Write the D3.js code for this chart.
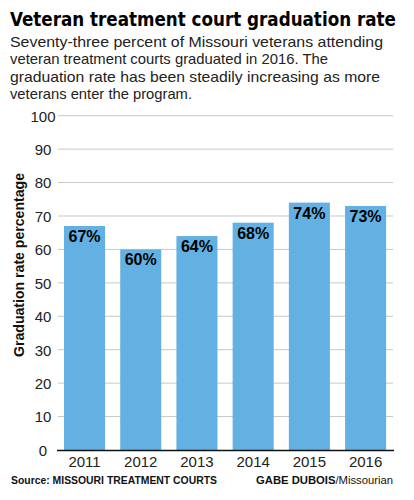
<!DOCTYPE html>
<html><head><meta charset="utf-8">
<script src="https://cdn.jsdelivr.net/npm/d3@7"></script>
<style>
body{margin:0;background:#fff;}
svg{display:block;}
</style></head>
<body>
<svg id="chart" width="414" height="500"></svg>
<script>
const years = ["2011","2012","2013","2014","2015","2016"];
const rates = [67, 60, 64, 68, 74, 73];
const yTicks = [0,10,20,30,40,50,60,70,80,90,100];
const titleText = "Veteran treatment court graduation rate";
const subtitleLines = [
  "Seventy-three percent of Missouri veterans attending",
  "veteran treatment courts graduated in 2016. The",
  "graduation rate has been steadily increasing as more",
  "veterans enter the program."
];
const yLabel = "Graduation rate percentage";

const svg = d3.select("#chart");
const W = 414, H = 500;
svg.append("rect").attr("width",W).attr("height",H).attr("fill","#fff");

const x = d3.scaleBand().domain(years).range([56.4, 393.7]).paddingInner(0.27).paddingOuter(0.135);
const y = d3.scaleLinear().domain([0,100]).range([450, 115.7]);

// title: fit natural width to 387px
const title = svg.append("text").attr("x",10).attr("y",25.5)
  .attr("font-family","'Liberation Sans Narrow','DejaVu Sans Condensed','Liberation Sans',sans-serif")
  .attr("font-weight","bold").attr("font-size",22).attr("fill","#000")
  .text(titleText);
const tw = title.node().getComputedTextLength();
if (tw > 0) {
  const fs = Math.min(22, 22 * 386 / tw);
  title.attr("font-size", fs);
}

// subtitle
const subW = [373, 318, 370, 182];
svg.append("g").selectAll("text").data(subtitleLines).join("text")
  .attr("x",10).attr("y",(d,i)=>46.5+i*17.5)
  .attr("font-family","'Liberation Sans',Arial,sans-serif")
  .attr("font-size",15).attr("fill","#222")
  .attr("textLength",(d,i)=>subW[i]).attr("lengthAdjust","spacingAndGlyphs")
  .text(d=>d);

// gridlines
const grid = svg.append("g");
grid.selectAll("line").data(yTicks.filter(t=>t>0)).join("line")
  .attr("x1",58).attr("x2",393)
  .attr("y1",d=>y(d)).attr("y2",d=>y(d))
  .attr("stroke","#c8c8c8").attr("stroke-width",1);

// y axis labels
const yAxis = d3.axisLeft(y).tickValues(yTicks).tickSize(0).tickPadding(0);
const yg = svg.append("g").attr("transform","translate(43,0)").call(yAxis);
yg.select(".domain").remove();
yg.selectAll("text").attr("text-anchor","middle").attr("x",0).attr("dy","0.36em")
  .attr("font-family","'Liberation Sans',Arial,sans-serif").attr("font-size",15).attr("fill","#222");

// bars
svg.append("g").selectAll("rect").data(years).join("rect")
  .attr("x",d=>x(d)).attr("width",x.bandwidth())
  .attr("y",(d,i)=>y(rates[i])).attr("height",(d,i)=>y(0)-y(rates[i]))
  .attr("fill","#62b1e2");

// bar labels
svg.append("g").selectAll("text").data(years).join("text")
  .attr("x",d=>x(d)+x.bandwidth()/2).attr("y",(d,i)=>y(rates[i])+16)
  .attr("text-anchor","middle")
  .attr("font-family","'Liberation Sans',Arial,sans-serif").attr("font-weight","bold")
  .attr("font-size",16).attr("fill","#000")
  .text((d,i)=>rates[i]+"%");

// x axis
const xAxis = d3.axisBottom(x).tickSize(0).tickPadding(6);
const xg = svg.append("g").attr("transform","translate(0,450)").call(xAxis);
xg.select(".domain").remove();
xg.selectAll("text").attr("font-family","'Liberation Sans',Arial,sans-serif").attr("font-size",15).attr("fill","#222");
svg.append("line").attr("x1",57).attr("x2",394).attr("y1",450.5).attr("y2",450.5)
  .attr("stroke","#111").attr("stroke-width",1.5);

// y label
svg.append("text").attr("transform","translate(23.5,265) rotate(-90)")
  .attr("text-anchor","middle")
  .attr("font-family","'Liberation Sans',Arial,sans-serif").attr("font-weight","bold")
  .attr("font-size",14).attr("fill","#111")
  .attr("textLength",184).attr("lengthAdjust","spacingAndGlyphs")
  .text(yLabel);

// footer
svg.append("text").attr("x",11).attr("y",484)
  .attr("font-family","'Liberation Sans Narrow','Liberation Sans',Arial,sans-serif").attr("font-weight","bold")
  .attr("font-size",10.5).attr("fill","#111")
  .attr("textLength",206).attr("lengthAdjust","spacingAndGlyphs")
  .text("Source: MISSOURI TREATMENT COURTS");
const cr = svg.append("text").attr("x",393).attr("y",484).attr("text-anchor","end")
  .attr("font-family","'Liberation Sans Narrow','Liberation Sans',Arial,sans-serif")
  .attr("font-size",10.5).attr("fill","#111")
  .attr("textLength",137).attr("lengthAdjust","spacingAndGlyphs");
cr.append("tspan").attr("font-weight","bold").text("GABE DUBOIS");
cr.append("tspan").text("/Missourian");
</script>
</body></html>
